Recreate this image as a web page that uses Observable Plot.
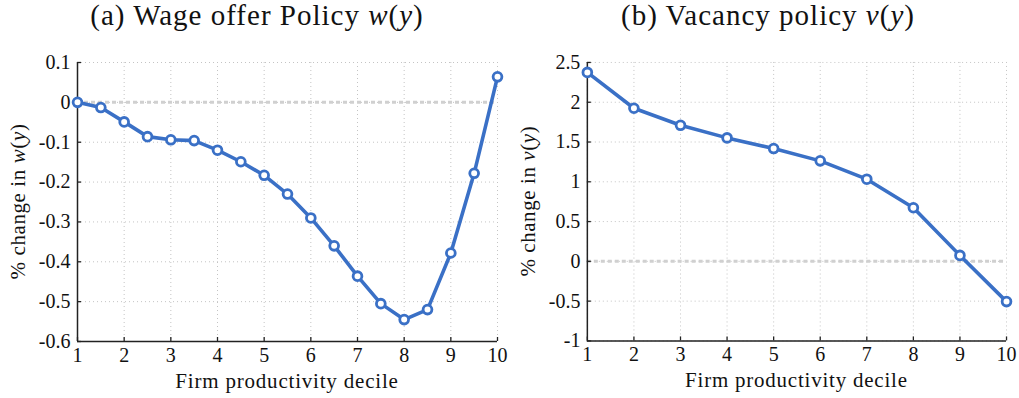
<!DOCTYPE html>
<html>
<head>
<meta charset="utf-8">
<script src="https://cdn.jsdelivr.net/npm/d3@7"></script>
<script src="https://cdn.jsdelivr.net/npm/@observablehq/plot@0.6"></script>
<style>
  body { margin: 0; background: #fff; width: 1019px; height: 398px; overflow: hidden; position: relative; font-family: "Liberation Serif", serif; }
  .title { position: absolute; top: -1px; font-size: 29px; letter-spacing: 1px; color: #111; white-space: nowrap; transform: translateX(-50%); }
  .panel { position: absolute; top: 40px; }
  .title i { font-style: italic; }
</style>
</head>
<body>
<div class="title" style="left:257px">(a) Wage offer Policy <i>w</i>(<i>y</i>)</div>
<div class="title" style="left:768px">(b) Vacancy policy <i>v</i>(<i>y</i>)</div>
<div class="panel" id="p1" style="left:0px"></div>
<div class="panel" id="p2" style="left:510px"></div>
<script>
// ---- data ----
const wageDeciles = [1, 1.5, 2, 2.5, 3, 3.5, 4, 4.5, 5, 5.5, 6, 6.5, 7, 7.5, 8, 8.5, 9, 9.5, 10];
const wageChange  = [0, -0.013, -0.049, -0.086, -0.094, -0.096, -0.120, -0.149, -0.183, -0.230, -0.290, -0.360, -0.436, -0.505, -0.545, -0.520, -0.378, -0.178, 0.064];
const vacDeciles  = [1, 2, 3, 4, 5, 6, 7, 8, 9, 10];
const vacChange   = [2.375, 1.924, 1.71, 1.552, 1.418, 1.263, 1.033, 0.674, 0.075, -0.506];
const xTicks = [1, 2, 3, 4, 5, 6, 7, 8, 9, 10];
const wTicks = [0.1, 0, -0.1, -0.2, -0.3, -0.4, -0.5, -0.6];
const vTicks = [2.5, 2, 1.5, 1, 0.5, 0, -0.5, -1];
const xLabel = "Firm productivity decile";

const blue = "#3a70c6";
const fontFam = "Liberation Serif";

function panel(el, xs, ys, yDomain, yTicks, fn) {
  const data = xs.map((x, i) => ({x, y: ys[i]}));
  const fmt = d => String(Math.round(d * 10) / 10);
  const W = 510, H = 358;
  const chart = Plot.plot({
    width: W, height: H,
    marginLeft: 77, marginRight: 13, marginTop: 22, marginBottom: 57,
    style: {fontSize: "20px", color: "#111", background: "white"},
    x: {domain: [1, 10], ticks: xTicks, label: null},
    y: {domain: yDomain, ticks: yTicks, label: null},
    marks: [
      Plot.gridX(xTicks, {stroke: "#c4c4c4", strokeOpacity: 1, strokeDasharray: "1,3", strokeWidth: 1}),
      Plot.gridY(yTicks, {stroke: "#c4c4c4", strokeOpacity: 1, strokeDasharray: "1,3", strokeWidth: 1}),
      Plot.ruleY([0], {stroke: "#d0d0d0", strokeWidth: 3, strokeDasharray: "4,3"}),
      Plot.axisX(xTicks, {tickSize: -4, tickPadding: 10, tickFormat: d => String(d), stroke: "#222", strokeWidth: 1.3, fill: "#111", fontSize: 20}),
      Plot.axisY(yTicks, {tickSize: -4, tickPadding: 11, tickFormat: fmt, stroke: "#222", strokeWidth: 1.3, fill: "#111", fontSize: 20}),
      Plot.ruleX([1], {stroke: "#222", strokeWidth: 1.5}),
      Plot.ruleY([yDomain[0]], {stroke: "#222", strokeWidth: 1.5}),
      Plot.line(data, {x: "x", y: "y", stroke: blue, strokeWidth: 3.6}),
      Plot.dot(data, {x: "x", y: "y", r: 4.4, fill: "white", stroke: blue, strokeWidth: 2.8})
    ]
  });
  el.appendChild(chart);
  const svg = d3.select(chart);
  svg.append("text")
    .attr("x", (77 + (W - 13)) / 2).attr("y", H - 10)
    .attr("text-anchor", "middle").attr("font-size", 21).attr("fill", "#111")
    .attr("letter-spacing", 0.8)
    .text(xLabel);
  const cy = (22 + (H - 57)) / 2;
  const t = svg.append("text")
    .attr("transform", `translate(25,${cy}) rotate(-90)`)
    .attr("text-anchor", "middle").attr("font-size", 21).attr("fill", "#111")
    .attr("letter-spacing", 0.6);
  t.append("tspan").text("% change in ");
  t.append("tspan").attr("font-style", "italic").text(fn);
  t.append("tspan").text("(");
  t.append("tspan").attr("font-style", "italic").text("y");
  t.append("tspan").text(")");
  svg.attr("font-family", null);
  svg.selectAll("text").attr("font-family", fontFam).style("font-family", fontFam);
}

panel(document.getElementById("p1"), wageDeciles, wageChange, [-0.6, 0.1], wTicks, "w");
panel(document.getElementById("p2"), vacDeciles, vacChange, [-1, 2.5], vTicks, "v");
</script>
</body>
</html>
